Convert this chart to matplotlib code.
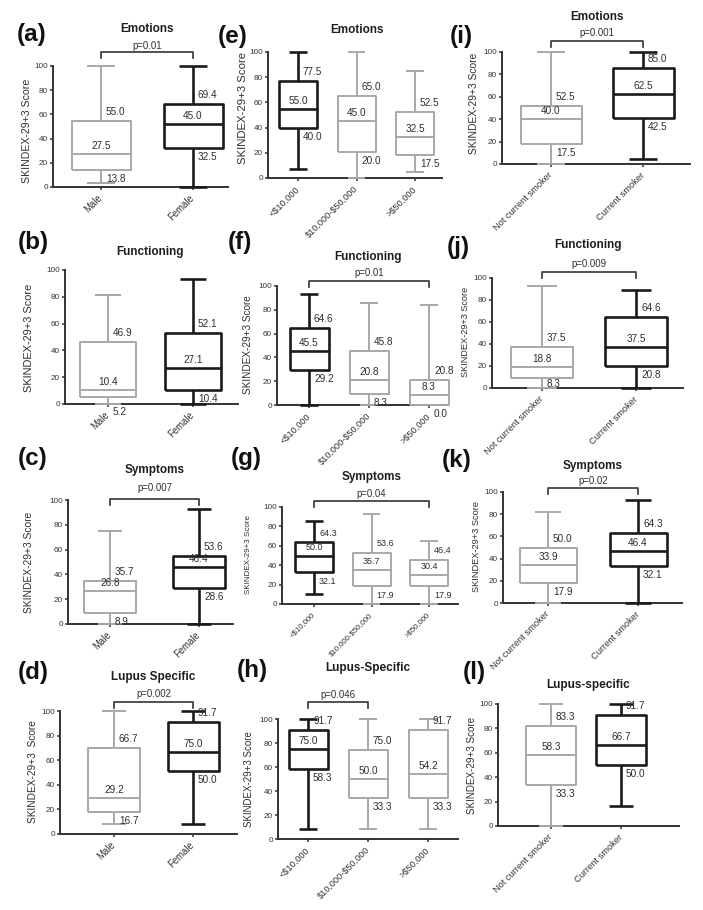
import matplotlib
matplotlib.use("Agg")
import matplotlib.pyplot as plt
import matplotlib.transforms as mtransforms

plt.rcParams['font.family'] = ['Liberation Sans', 'DejaVu Sans']

W, H = 703, 910

# ---------------- data ----------------
sex_cats = ["Male", "Female"]
income_cats = ["<$10,000", "$10,000-$50,000", ">$50,000"]
smoke_cats = ["Not current smoker", "Current smoker"]

ylab_std = "SKINDEX-29+3 Score"
ylab_d = "SKINDEX-29+3  Score"

# five-number summaries as drawn: [whisker low, q1, median, q3, whisker high]
a_stats = [[3, 13.8, 27.5, 54.5, 100], [0, 32.5, 52, 69, 100]]
a_labels = [[55.0, 27.5, 13.8], [69.4, 45.0, 32.5]]
a_p = "p=0.01"

e_stats = [[7.4, 40, 55, 77.3, 100], [0, 20.5, 45, 64.7, 100], [4.7, 18.4, 32.5, 52, 85]]
e_labels = [[77.5, 55.0, 40.0], [65.0, 45.0, 20.0], [52.5, 32.5, 17.5]]

i_stats = [[0, 18, 40, 52, 100], [4.7, 41.2, 62.5, 85.5, 100]]
i_labels = [[52.5, 40.0, 17.5], [85.0, 62.5, 42.5]]
i_p = "p=0.001"

b_stats = [[0, 5.2, 10.4, 46.5, 81.5], [0, 10.4, 27.1, 53.3, 93]]
b_labels = [[46.9, 10.4, 5.2], [52.1, 27.1, 10.4]]

f_stats = [[0, 29, 45.5, 64.4, 93], [0, 8.9, 20.8, 45, 85.8], [0, 0, 8.3, 20.6, 83.8]]
f_labels = [[64.6, 45.5, 29.2], [45.8, 20.8, 8.3], [20.8, 8.3, 0.0]]
f_p = "p=0.01"

j_stats = [[0, 8.8, 18.8, 37.2, 92.7], [0, 20.3, 37.5, 64.6, 89.3]]
j_labels = [[37.5, 18.8, 8.3], [64.6, 37.5, 20.8]]
j_p = "p=0.009"

c_stats = [[0, 8.9, 26.9, 34.9, 75.3], [0, 29.3, 46.2, 54.5, 93]]
c_labels = [[35.7, 26.8, 8.9], [53.6, 46.4, 28.6]]
c_p = "p=0.007"

g_stats = [[10.6, 32.5, 50, 63.5, 85.7], [0, 18.2, 35.5, 53, 93.2], [0, 18.2, 30.4, 45.5, 64.8]]
g_labels = [[64.3, 50.0, 32.1], [53.6, 35.7, 17.9], [46.4, 30.4, 17.9]]
g_p = "p=0.04"

k_stats = [[0, 18.2, 33.9, 49.5, 82.3], [0, 33, 46.4, 63.2, 92.8]]
k_labels = [[50.0, 33.9, 17.9], [64.3, 46.4, 32.1]]
k_p = "p=0.02"

d_stats = [[8.4, 17.5, 29.2, 69.7, 100], [8.4, 51, 66.8, 90.8, 100]]
d_labels = [[66.7, 29.2, 16.7], [91.7, 75.0, 50.0]]
d_p = "p=0.002"

h_stats = [[8.5, 58.7, 75, 90.8, 100], [8.5, 33.8, 50, 74.5, 100], [8.5, 33.8, 53.8, 90.8, 100]]
h_labels = [[91.7, 75.0, 58.3], [75.0, 50.0, 33.3], [91.7, 54.2, 33.3]]
h_p = "p=0.046"

l_stats = [[0, 33.6, 58.2, 82.2, 100], [16.5, 50.4, 66.3, 90.7, 100]]
l_labels = [[83.3, 58.3, 33.3], [91.7, 66.7, 50.0]]

# ---------------- layout (pixels) ----------------
GRAY = "#a8a8a8"
BLACK = "#1a1a1a"
AX = "#333333"

panels = [
    ("(a)", "Emotions", sex_cats, a_stats, a_labels, a_p, ylab_std, [GRAY, BLACK],
     dict(L=53, R=228, T=66, B=187, ticks=[101, 193], bw=59, title=(147, 29), plabel=(32, 34),
          ylab=(27, 131, 7.6), py=52, pty=46, pbar=(0, 1), xfs=6.9)),
    ("(e)", "Emotions", income_cats, e_stats, e_labels, None, ylab_std, [BLACK, GRAY, GRAY],
     dict(L=268, R=442, T=52, B=178, ticks=[298, 357, 415], bw=38, title=(357, 30), plabel=(233, 36),
          ylab=(243, 108, 8.2), xfs=6.6)),
    ("(i)", "Emotions", smoke_cats, i_stats, i_labels, i_p, ylab_std, [GRAY, BLACK],
     dict(L=502, R=690, T=52, B=164, ticks=[551, 643], bw=61, title=(597, 17), plabel=(461, 36),
          ylab=(474, 103, 7.4), py=41, pty=33, pbar=(0, 1), xfs=6.7)),
    ("(b)", "Functioning", sex_cats, b_stats, b_labels, None, ylab_std, [GRAY, BLACK],
     dict(L=65, R=238, T=270, B=404, ticks=[108, 193], bw=56, title=(150, 252), plabel=(33, 243),
          ylab=(29, 338, 7.9), xfs=6.9, lowdy={0: -15})),
    ("(f)", "Functioning", income_cats, f_stats, f_labels, f_p, ylab_std, [BLACK, GRAY, GRAY],
     dict(L=277, R=448, T=286, B=405, ticks=[309, 372, 429], bw=39, title=(368, 257), plabel=(240, 243),
          ylab=(248, 345, 7.2), py=281, pty=273, pbar=(0, 2), xfs=6.6)),
    ("(j)", "Functioning", smoke_cats, j_stats, j_labels, j_p, ylab_std, [GRAY, BLACK],
     dict(L=492, R=683, T=278, B=388, ticks=[542, 636], bw=62, title=(588, 245), plabel=(458, 248),
          ylab=(465, 332, 6.6), py=272, pty=264, pbar=(0, 1), xfs=6.7, lowdy={0: -6})),
    ("(c)", "Symptoms", sex_cats, c_stats, c_labels, c_p, ylab_std, [GRAY, BLACK],
     dict(L=68, R=233, T=500, B=624, ticks=[110, 199], bw=52, title=(155, 470), plabel=(33, 458),
          ylab=(29, 562, 7.4), py=499, pty=488, pbar=(0, 1), xfs=6.9)),
    ("(g)", "Symptoms", income_cats, g_stats, g_labels, g_p, ylab_std, [BLACK, GRAY, GRAY],
     dict(L=282, R=458, T=507, B=604, ticks=[314, 372, 429], bw=38, title=(372, 477), plabel=(246, 459),
          ylab=(248, 555, 5.8), py=501, pty=494, pbar=(0, 2), xfs=5.6, vfs=6.5)),
    ("(k)", "Symptoms", smoke_cats, k_stats, k_labels, k_p, ylab_std, [GRAY, BLACK],
     dict(L=503, R=682, T=492, B=603, ticks=[548, 638], bw=57, title=(593, 466), plabel=(457, 461),
          ylab=(476, 547, 6.7), py=488, pty=481, pbar=(0, 1), xfs=6.7)),
    ("(d)", "Lupus Specific", sex_cats, d_stats, d_labels, d_p, ylab_d, [GRAY, BLACK],
     dict(L=60, R=237, T=711, B=834, ticks=[114, 193], bw=51, title=(153, 677), plabel=(33, 672),
          ylab=(33, 772, 7.3), py=702, pty=694, pbar=(0, 1), xfs=6.9)),
    ("(h)", "Lupus-Specific", income_cats, h_stats, h_labels, h_p, ylab_std, [BLACK, GRAY, GRAY],
     dict(L=278, R=458, T=719, B=839, ticks=[308, 368, 428], bw=39, title=(368, 668), plabel=(252, 670),
          ylab=(249, 779, 7.0), py=702, pty=695, pbar=(0, 1), xfs=6.6)),
    ("(l)", "Lupus-specific", smoke_cats, l_stats, l_labels, None, ylab_std, [GRAY, BLACK],
     dict(L=498, R=679, T=704, B=826, ticks=[551, 621], bw=50, title=(588, 685), plabel=(474, 672),
          ylab=(472, 765, 7.1), xfs=6.7)),
]

fig = plt.figure(figsize=(W / 100, H / 100), dpi=100)


def fx(px):
    return px / W


def fy(py):
    return 1 - py / H


for plabel, title, cats, stats, labels, pval, ylab, colors, lay in panels:
    L, R, T, B = lay['L'], lay['R'], lay['T'], lay['B']
    ax = fig.add_axes([fx(L), fy(B), (R - L) / W, (B - T) / H])
    t = lay['ticks']
    n = len(cats)
    d = (t[-1] - t[0]) / (n - 1)
    ax.set_xlim((L - t[0]) / d, (R - t[0]) / d)
    ax.set_ylim(0, 100)
    bw = lay['bw'] / d
    vfs = lay.get('vfs', 7.2)
    lowdy = lay.get('lowdy', {})
    for i in range(n):
        lo, q1, med, q3, hi = stats[i]
        c = colors[i]
        lw = 1.9 if c == BLACK else 1.4
        st = [dict(whislo=lo, q1=q1, med=med, q3=q3, whishi=hi, fliers=[])]
        props = dict(color=c, linewidth=lw, solid_capstyle='butt')
        art = ax.bxp(st, positions=[i], widths=bw, capwidths=bw * 0.47, showfliers=False,
                     boxprops=props, medianprops=props, whiskerprops=props, capprops=props,
                     manage_ticks=False)
        for key in art:
            for a in art[key]:
                a.set_clip_on(False)
                a.set_zorder(3)
        up, mid, low = labels[i]
        tr_u = mtransforms.offset_copy(ax.transData, fig=fig, x=5, y=9, units='dots')
        tr_m = mtransforms.offset_copy(ax.transData, fig=fig, x=0, y=8, units='dots')
        tr_l = mtransforms.offset_copy(ax.transData, fig=fig, x=5, y=lowdy.get(i, -9), units='dots')
        kw = dict(fontsize=vfs, color='#2e2e2e', va='center', zorder=5)
        ax.text(i, q3, f"{up:.1f}", transform=tr_u, ha='left', **kw)
        ax.text(i, med, f"{mid:.1f}", transform=tr_m, ha='center', **kw)
        ax.text(i, q1, f"{low:.1f}", transform=tr_l, ha='left', **kw)

    for s in ['top', 'right']:
        ax.spines[s].set_visible(False)
    for s in ['left', 'bottom']:
        ax.spines[s].set_color(AX)
        ax.spines[s].set_linewidth(1.4)
    ax.set_yticks([0, 20, 40, 60, 80, 100])
    ax.tick_params(axis='y', labelsize=5.9, length=2.5, width=1.1, pad=1, colors=AX)
    ax.set_xticks(range(n))
    ax.set_xticklabels([c.replace('$', r'\$') for c in cats], rotation=45, ha='right',
                       va='center', rotation_mode='anchor', fontsize=lay['xfs'], color='#2e2e2e')
    ax.tick_params(axis='x', length=2.5, width=1.1, pad=4.5, colors=AX)
    ax.patch.set_alpha(0)

    if pval:
        i0, i1 = lay['pbar']
        tr = mtransforms.blended_transform_factory(ax.transData, fig.transFigure)
        yb = fy(lay['py'])
        tk = 6 / H
        ax.plot([i0, i0, i1, i1], [yb - tk, yb, yb, yb - tk], transform=tr, color=AX,
                lw=1.2, clip_on=False)
        ax.text((i0 + i1) / 2, fy(lay['pty']), pval, transform=tr, ha='center', va='center',
                fontsize=6.9, color='#2e2e2e')

    tx, ty = lay['title']
    fig.text(fx(tx), fy(ty), title, ha='center', va='center', fontsize=8.5,
             fontweight='bold', color='#1e1e1e')
    px, py = lay['plabel']
    fig.text(fx(px), fy(py), plabel, ha='center', va='center', fontsize=17.5,
             fontweight='bold', color='#111111')
    yx, yy, yfs = lay['ylab']
    fig.text(fx(yx), fy(yy), ylab, ha='center', va='center', rotation=90,
             fontsize=yfs, color='#2e2e2e')

fig.savefig("out.png", dpi=100, facecolor='white')
